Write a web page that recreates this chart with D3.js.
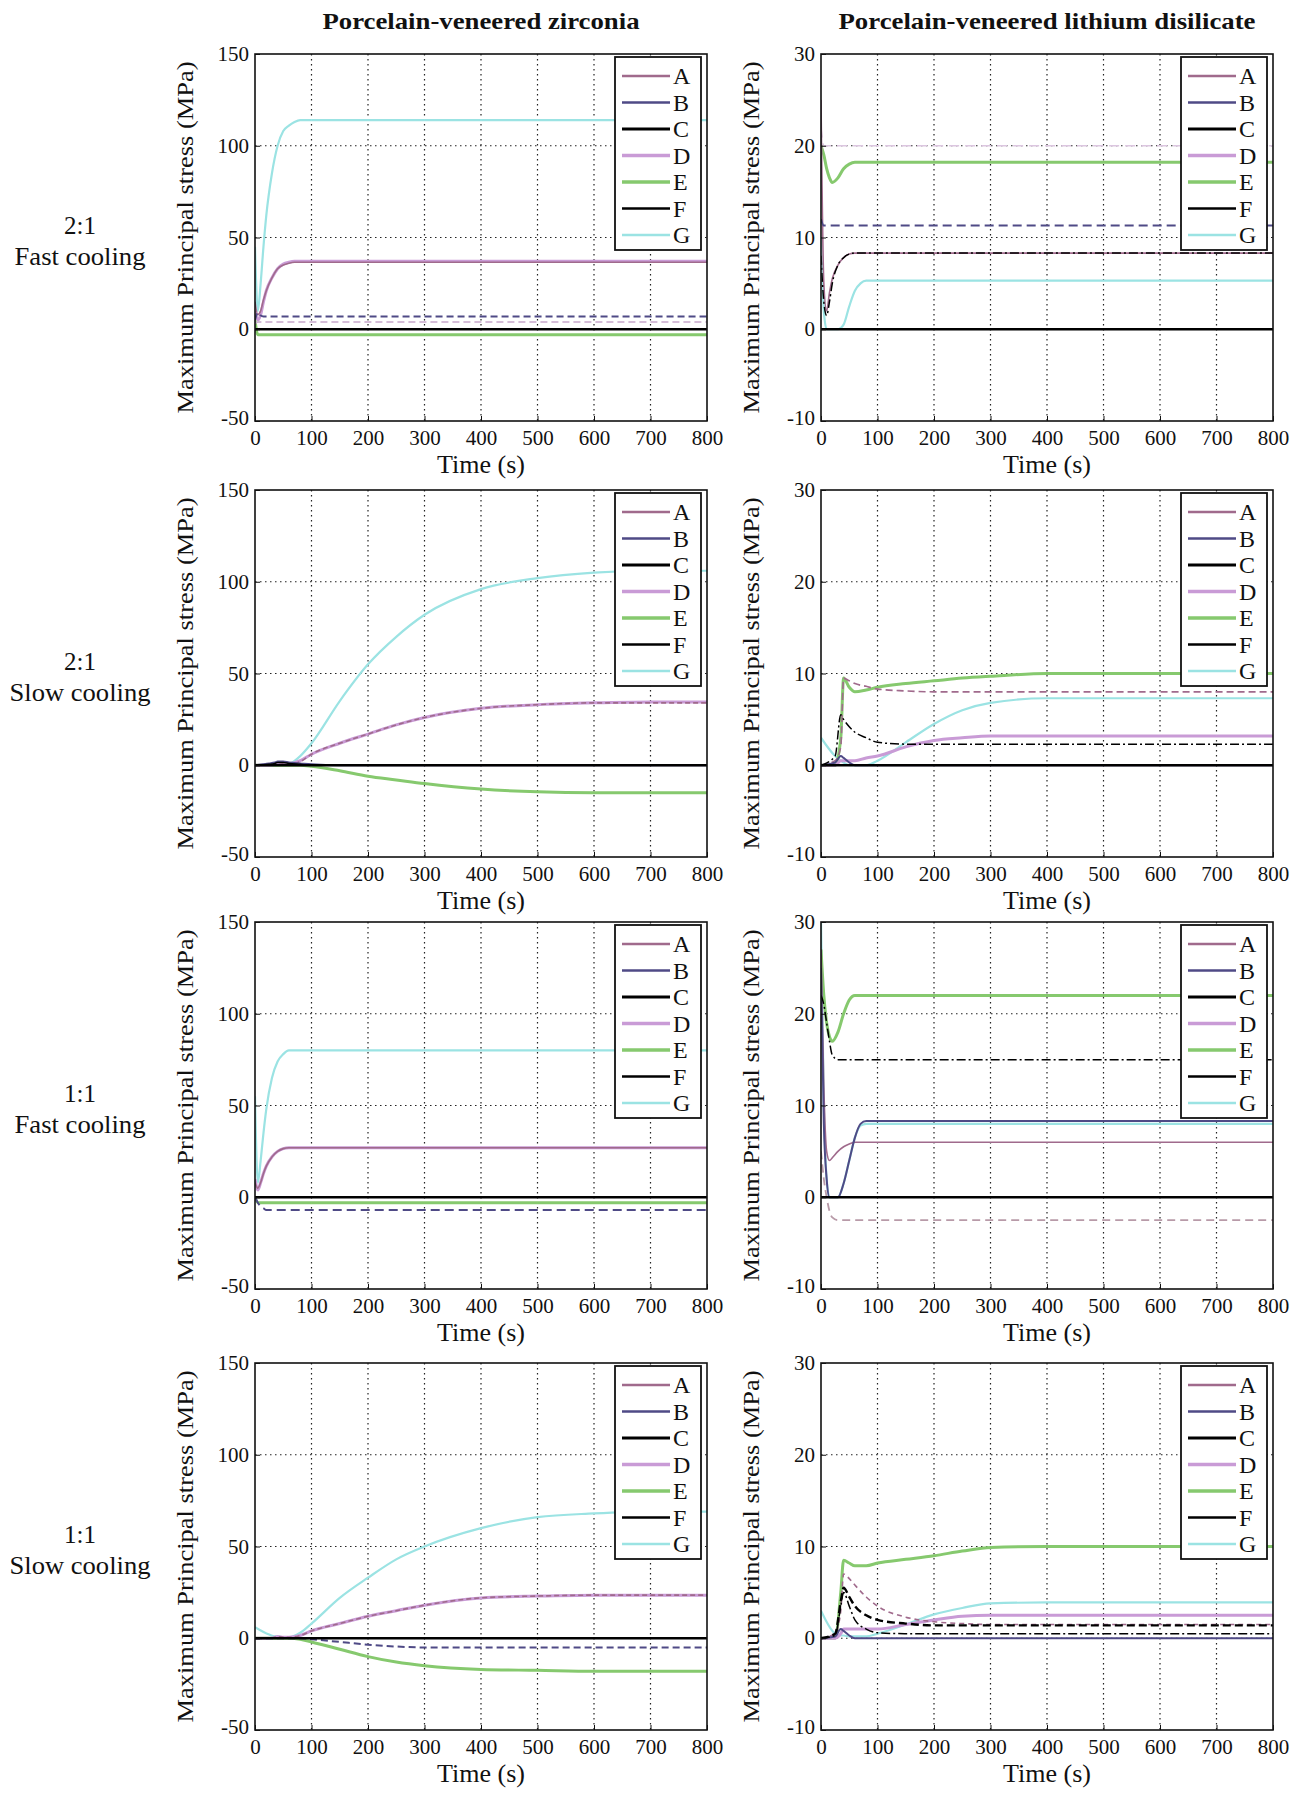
<!DOCTYPE html>
<html><head><meta charset="utf-8">
<script src="https://cdn.jsdelivr.net/npm/d3@7"></script>
<style>body{margin:0;background:#fff} text{font-family:"Liberation Serif","DejaVu Serif",serif;fill:#111}</style>
</head><body><svg id="c" width="1300" height="1800"></svg>
<script>
// ---------- data ----------
const SERIES = ["A","B","C","D","E","F","G"];
const COLUMN_TITLES = ["Porcelain-veneered zirconia","Porcelain-veneered lithium disilicate"];
const ROW_LABELS = [["2:1","Fast cooling"],["2:1","Slow cooling"],["1:1","Fast cooling"],["1:1","Slow cooling"]];
const X_TICKS = [0,100,200,300,400,500,600,700,800];
const Y_TICKS_ZR = [-50,0,50,100,150];
const Y_TICKS_LD = [-10,0,10,20,30];
const X_LABEL = "Time (s)";
const Y_LABEL = "Maximum Principal stress (MPa)";

const T_FAST = [0,5,10,15,20,30,40,50,60,70,80,100,200,400,600,800];
const T_SLOW = [0,25,35,40,50,60,80,100,150,200,250,300,400,500,600,700,800];

// Zirconia 2:1 fast
const ZR_21_FAST = {
  A:[15,8,10,16,21,28,33,35,36,36.5,36.5,36.5,36.5,36.5,36.5,36.5],
  B:[5,9,7.5,7,7,7,7,7,7,7,7,7,7,7,7,7],
  C:[0,0,0,0,0,0,0,0,0,0,0,0,0,0,0,0],
  D:[10,5,8,15,21,28,33,35.5,36.5,37,37,37,37,37,37,37],
  E:[5,-3,-3,-3,-3,-3,-3,-3,-3,-3,-3,-3,-3,-3,-3,-3],
  F:[3,4,4,4,4,4,4,4,4,4,4,4,4,4,4,4],
  G:[45,10,25,45,62,85,100,108,111,113,114,114,114,114,114,114]
};
// Zirconia 2:1 slow
const ZR_21_SLOW = {
  A:[0,0.5,1,1.5,1,0.5,2,6,12,17,22,26,31,33,34,34,34],
  B:[0,1,1.5,2,2,1.5,1,0.5,0,0,0,0,0,0,0,0,0],
  C:[0,0,0,0,0,0,0,0,0,0,0,0,0,0,0,0,0],
  D:[0,0,0.5,1,1,0.8,2.5,6,12,17,22,26,31,33,34,34.5,34.5],
  E:[0,0,0,0,0,0,0,-0.5,-3,-6,-8,-10,-13,-14.5,-15,-15,-15],
  F:[0,0.5,1,1.5,1.5,1,0.5,0,0,0,0,0,0,0,0,0,0],
  G:[0,0,0,0,0,0.5,5,12,35,55,70,82,96,102,105,106,106]
};
// Zirconia 1:1 fast
const ZR_11_FAST = {
  A:[8,5,8,13,17,22,25,26.5,27,27,27,27,27,27,27,27],
  B:[0,-3,-5,-6,-7,-7,-7,-7,-7,-7,-7,-7,-7,-7,-7,-7],
  C:[0,0,0,0,0,0,0,0,0,0,0,0,0,0,0,0],
  D:[10,4,8,13,17,22,25,26.5,27,27,27,27,27,27,27,27],
  E:[0,-3,-3,-3,-3,-3,-3,-3,-3,-3,-3,-3,-3,-3,-3,-3],
  F:[0,0,0,0,0,0,0,0,0,0,0,0,0,0,0,0],
  G:[55,8,20,35,48,65,74,78,80,80,80,80,80,80,80,80]
};
// Zirconia 1:1 slow
const ZR_11_SLOW = {
  A:[0,0,0.5,1,0.5,0.5,1.5,4,8,12,15,18,22,23,23.5,23.5,23.5],
  B:[0,0,0,0,0,0,0,-0.5,-2,-3.5,-4.5,-5,-5,-5,-5,-5,-5],
  C:[0,0,0,0,0,0,0,0,0,0,0,0,0,0,0,0,0],
  D:[0,0,0.5,1,0.5,0.5,1.5,4,8,12,15,18,22,23,23.5,23.5,23.5],
  E:[0,0,0,0,0,0,-0.5,-2,-6,-10,-13,-15,-17,-17.5,-18,-18,-18],
  F:[0,0,0,0,0,0,0,0,0,0,0,0,0,0,0,0,0],
  G:[6,2,1,1,0.5,0.5,3,8,22,33,43,50,60,66,68,69,69]
};
// Lithium disilicate 2:1 fast
const LD_21_FAST = {
  A:[25,5,2,4,5.5,7,7.8,8.2,8.3,8.3,8.3,8.3,8.3,8.3,8.3,8.3],
  B:[12,11.3,11.3,11.3,11.3,11.3,11.3,11.3,11.3,11.3,11.3,11.3,11.3,11.3,11.3,11.3],
  C:[0,0,0,0,0,0,0,0,0,0,0,0,0,0,0,0],
  D:[22,20,20,20,20,20,20,20,20,20,20,20,20,20,20,20],
  E:[20,19,17.5,16.5,16,16.5,17.5,18,18.2,18.2,18.2,18.2,18.2,18.2,18.2,18.2],
  F:[8,3,1.5,3,5,7,7.8,8.2,8.3,8.3,8.3,8.3,8.3,8.3,8.3,8.3],
  G:[10,2,0,0,0,0,0.5,2.5,4.2,5,5.3,5.3,5.3,5.3,5.3,5.3]
};
// Lithium disilicate 2:1 slow
const LD_21_SLOW = {
  A:[0,0.5,2,9.5,9.2,8.9,8.6,8.3,8.1,8,8,8,8,8,8,8,8],
  B:[0,0.3,1,0.8,0.3,0,0,0,0,0,0,0,0,0,0,0,0],
  C:[0,0,0,0,0,0,0,0,0,0,0,0,0,0,0,0,0],
  D:[0,0,0.5,0.5,0.5,0.5,0.8,1,2,2.7,3,3.2,3.2,3.2,3.2,3.2,3.2],
  E:[0,0,3,9.5,8.5,8,8.2,8.5,8.9,9.2,9.5,9.7,10,10,10,10,10],
  F:[0,1,5.5,5,4.2,3.6,3,2.5,2.3,2.3,2.3,2.3,2.3,2.3,2.3,2.3,2.3],
  G:[3,1,0.5,0.3,0,0,0,0.5,2.5,4.5,6,6.8,7.3,7.3,7.3,7.3,7.3]
};
// Lithium disilicate 1:1 fast
const LD_11_FAST = {
  A:[27,12,5,4,4.3,5,5.5,5.8,6,6,6,6,6,6,6,6],
  B:[25,8,2,0,0,0,1.5,4,6.5,8,8.3,8.3,8.3,8.3,8.3,8.3],
  C:[0,0,0,0,0,0,0,0,0,0,0,0,0,0,0,0],
  D:[5,2,0,-1.5,-2.2,-2.5,-2.5,-2.5,-2.5,-2.5,-2.5,-2.5,-2.5,-2.5,-2.5,-2.5],
  E:[27,22,19,17.5,17,18,20,21.5,22,22,22,22,22,22,22,22],
  F:[22,21,19,17,15.5,15,15,15,15,15,15,15,15,15,15,15],
  G:[30,10,2,0,0,0,1.5,4,6.5,7.8,8,8,8,8,8,8]
};
// Lithium disilicate 1:1 slow
const LD_11_SLOW = {
  A:[0,0.5,3,7,6.5,5.8,4.5,3.5,2.3,1.8,1.6,1.5,1.5,1.5,1.5,1.5,1.5],
  B:[0,0.2,1,0.8,0.3,0,0,0,0,0,0,0,0,0,0,0,0],
  C:[0,0.5,4,5.5,4.5,3.5,2.5,2,1.6,1.4,1.4,1.4,1.4,1.4,1.4,1.4,1.4],
  D:[0,0,0.5,1,1,1,1,1,1.5,2,2.4,2.5,2.5,2.5,2.5,2.5,2.5],
  E:[0,0,5,8.5,8.2,7.9,7.9,8.2,8.6,9,9.5,9.9,10,10,10,10,10],
  F:[0,0.3,3.5,5,3.5,2,1,0.6,0.5,0.5,0.5,0.5,0.5,0.5,0.5,0.5,0.5],
  G:[3,0.5,0.3,0.3,0.2,0.2,0.2,0.5,1.5,2.6,3.3,3.8,3.9,3.9,3.9,3.9,3.9]
};

// ---------- styles ----------
const COLORS = {A:"#a06a8c",B:"#4f4a86",C:"#000000",D:"#c99bd6",E:"#86c96e",F:"#000000",G:"#9be3e3"};
const WIDTHS = {A:1.6,B:2,C:2.4,D:3,E:3,F:1.5,G:2.2};
const DASH = {
  z21f:{B:"7,4",F:"7,4"},
  z21s:{A:"5,3"},
  z11f:{B:"9,5",F:"9,3,2,3"},
  z11s:{A:"5,3",B:"7,4"},
  l21f:{B:"9,5",D:"10,6",F:"9,3,2,3"},
  l21s:{A:"7,4",F:"9,3,2,3"},
  l11f:{D:"8,5",F:"9,3,2,3"},
  l11s:{A:"5,4",C:"8,4",F:"9,3,2,3"}
};
const OVERRIDE = {z21f:{F:{color:"#c8a8cc",width:1.5}}, l21f:{D:{color:"#dcc6e0",width:1.5}}, l11f:{D:{color:"#b89aa8",width:1.8}}};

const PANELS = [
  {row:0,col:0,time:T_FAST,data:ZR_21_FAST,key:"z21f"},
  {row:0,col:1,time:T_FAST,data:LD_21_FAST,key:"l21f"},
  {row:1,col:0,time:T_SLOW,data:ZR_21_SLOW,key:"z21s"},
  {row:1,col:1,time:T_SLOW,data:LD_21_SLOW,key:"l21s"},
  {row:2,col:0,time:T_FAST,data:ZR_11_FAST,key:"z11f"},
  {row:2,col:1,time:T_FAST,data:LD_11_FAST,key:"l11f"},
  {row:3,col:0,time:T_SLOW,data:ZR_11_SLOW,key:"z11s"},
  {row:3,col:1,time:T_SLOW,data:LD_11_SLOW,key:"l11s"}
];

// ---------- layout ----------
const COL_X = [255, 821];
const ROW_Y = [54, 490, 922, 1363];
const W = 452, H = 367;

const svg = d3.select("#c");
svg.append("rect").attr("width",1300).attr("height",1800).attr("fill","#fff");

COLUMN_TITLES.forEach((t,i)=>{
  svg.append("text").attr("x",COL_X[i]+W/2).attr("y",29).attr("text-anchor","middle")
    .attr("font-size",24).attr("font-weight","bold")
    .attr("textLength", i===0?317:417).attr("lengthAdjust","spacingAndGlyphs").text(t);
});
ROW_LABELS.forEach((r,i)=>{
  const cy = ROW_Y[i] + 180;
  svg.append("text").attr("x",80).attr("y",cy).attr("text-anchor","middle").attr("font-size",25).text(r[0]);
  svg.append("text").attr("x",80).attr("y",cy+31).attr("text-anchor","middle").attr("font-size",25)
    .attr("textLength", r[1].startsWith("Fast")?131:141).attr("lengthAdjust","spacingAndGlyphs").text(r[1]);
});

PANELS.forEach((p,pi)=>{
  const dash = DASH[p.key], ov = OVERRIDE[p.key] || {};
  const g = svg.append("g").attr("transform",`translate(${COL_X[p.col]},${ROW_Y[p.row]})`);
  const yTicks = p.col===0 ? Y_TICKS_ZR : Y_TICKS_LD;
  const x = d3.scaleLinear().domain([0,800]).range([0,W]);
  const y = d3.scaleLinear().domain([yTicks[0], yTicks[yTicks.length-1]]).range([H,0]);

  g.append("g").selectAll("line").data(X_TICKS.slice(1,-1)).join("line")
    .attr("x1",d=>x(d)).attr("x2",d=>x(d)).attr("y1",0).attr("y2",H)
    .attr("stroke","#222").attr("stroke-width",1.2).attr("stroke-dasharray","1.5,3.5");
  g.append("g").selectAll("line").data(yTicks.slice(1,-1)).join("line")
    .attr("y1",d=>y(d)).attr("y2",d=>y(d)).attr("x1",0).attr("x2",W)
    .attr("stroke","#222").attr("stroke-width",1.2).attr("stroke-dasharray","1.5,3.5");

  const cid = "clip"+pi;
  g.append("clipPath").attr("id",cid).append("rect").attr("width",W).attr("height",H);
  const lg = g.append("g").attr("clip-path",`url(#${cid})`);
  const line = d3.line().x(d=>x(d[0])).y(d=>y(d[1])).curve(d3.curveMonotoneX);
  ["G","E","D","A","B","F","C"].forEach(s=>{
    const pts = p.time.map((t,i)=>[t,p.data[s][i]]);
    const o = ov[s] || {};
    lg.append("path").attr("d",line(pts)).attr("fill","none")
      .attr("stroke",o.color||COLORS[s]).attr("stroke-width",o.width||WIDTHS[s])
      .attr("stroke-dasharray",dash[s]||null);
  });

  g.append("rect").attr("width",W).attr("height",H).attr("fill","none").attr("stroke","#111").attr("stroke-width",1.6);

  const xa = g.append("g").attr("transform",`translate(0,${H})`)
    .call(d3.axisBottom(x).tickValues(X_TICKS).tickSize(-5).tickPadding(9).tickFormat(d=>String(d)));
  const ya = g.append("g")
    .call(d3.axisLeft(y).tickValues(yTicks).tickSize(-5).tickPadding(6).tickFormat(d=>String(d)));
  [xa,ya].forEach(a=>{
    a.select(".domain").remove();
    a.selectAll("line").attr("stroke","#111");
    a.selectAll("text").attr("font-size",21).attr("font-family",'"Liberation Serif",serif').attr("fill","#111");
  });
  ya.selectAll(".tick").filter(d=>d===yTicks[0]).select("text").attr("dy","0.15em");

  g.append("text").attr("x",W/2).attr("y",H+52).attr("text-anchor","middle").attr("font-size",25)
    .attr("textLength",88).attr("lengthAdjust","spacingAndGlyphs").text(X_LABEL);
  g.append("text").attr("transform",`translate(${-62},${H/2}) rotate(-90)`).attr("text-anchor","middle")
    .attr("font-size",23).attr("textLength",352).attr("lengthAdjust","spacingAndGlyphs").text(Y_LABEL);

  const bw = 86, bh = 193;
  const bx = W - bw - 6, by = 3;
  const leg = g.append("g").attr("transform",`translate(${bx},${by})`);
  leg.append("rect").attr("width",bw).attr("height",bh).attr("fill","#fff").attr("stroke","#111").attr("stroke-width",1.8);
  SERIES.forEach((s,i)=>{
    const yy = 19 + i*26.5;
    leg.append("line").attr("x1",7).attr("x2",55).attr("y1",yy).attr("y2",yy)
      .attr("stroke",COLORS[s]).attr("stroke-width",Math.max(WIDTHS[s],2)+0.5);
    leg.append("text").attr("x",58).attr("y",yy+8).attr("font-size",24).text(s);
  });
});
</script></body></html>
